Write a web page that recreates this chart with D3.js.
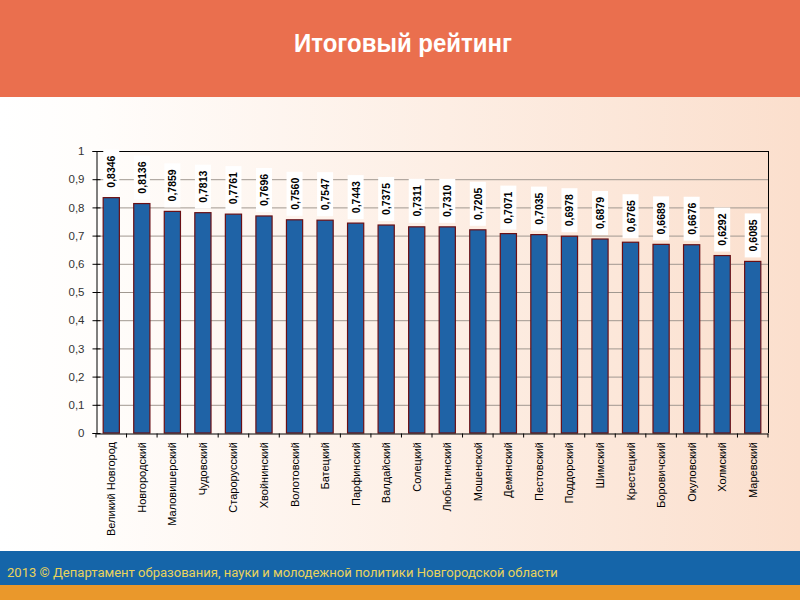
<!DOCTYPE html>
<html><head><meta charset="utf-8">
<script src="https://cdn.jsdelivr.net/npm/d3@7"></script>
<style>html,body{margin:0;padding:0;background:#fff;}svg{display:block;}</style>
</head><body>
<svg id="c" width="800" height="600"></svg>
<script>
const categories = ["Великий Новгород","Новгородский","Маловишерский","Чудовский","Старорусский","Хвойнинский","Волотовский","Батецкий","Парфинский","Валдайский","Солецкий","Любытинский","Мошенской","Демянский","Пестовский","Поддорский","Шимский","Крестецкий","Боровичский","Окуловский","Холмский","Маревский"];
const values = [0.8346,0.8136,0.7859,0.7813,0.7761,0.7696,0.7560,0.7547,0.7443,0.7375,0.7311,0.7310,0.7205,0.7071,0.7035,0.6978,0.6879,0.6765,0.6689,0.6676,0.6292,0.6085];
const yTicks = [0,0.1,0.2,0.3,0.4,0.5,0.6,0.7,0.8,0.9,1];
const title = "Итоговый рейтинг";
const footer = "2013 © Департамент образования, науки и молодежной политики Новгородской области";

const svg = d3.select("#c");
const defs = svg.append("defs");
const g1 = defs.append("linearGradient").attr("id","bg").attr("x1","0").attr("x2","1").attr("y1","0").attr("y2","0");
g1.append("stop").attr("offset","0").attr("stop-color","#ffffff");
g1.append("stop").attr("offset","0.12").attr("stop-color","#fffdfb");
g1.append("stop").attr("offset","1").attr("stop-color","#fbdfcd");
svg.append("rect").attr("width",800).attr("height",600).attr("fill","url(#bg)");
svg.append("rect").attr("width",800).attr("height",97).attr("fill","#ea6f4e");
svg.append("text").attr("transform","translate(403,52) scale(0.96,1)").attr("text-anchor","middle")
  .attr("font-family","'Liberation Sans Narrow','Arial Narrow','Liberation Sans',sans-serif")
  .attr("font-weight","bold").attr("font-size",25).attr("fill","#fff").text(title);
svg.append("rect").attr("y",551).attr("width",800).attr("height",34).attr("fill","#1565a9");
svg.append("rect").attr("y",585).attr("width",800).attr("height",15).attr("fill","#ea982b");
svg.append("text").attr("x",7).attr("y",577)
  .attr("font-family","Roboto,'Liberation Sans',sans-serif").attr("font-size",13.05)
  .attr("fill","#e9d35c").text(footer);

const L=96,R=768,T=151,B=433;
const x = d3.scaleBand().domain(categories).range([L,R]).paddingInner(0.47).paddingOuter(0.235);
const y = d3.scaleLinear().domain([0,1]).range([B,T]);

const g = svg.append("g");
g.selectAll("line.grid").data(yTicks.filter(d=>d>0)).join("line")
  .attr("x1",L).attr("x2",R).attr("y1",d=>y(d)+0.5).attr("y2",d=>y(d)+0.5)
  .attr("stroke",d=>d===1?"#000":"#a09890").attr("stroke-width",1);
g.append("line").attr("x1",R+0.5).attr("x2",R+0.5).attr("y1",T).attr("y2",B).attr("stroke","#000");

g.selectAll("rect.bar").data(values).join("rect")
  .attr("x",(d,i)=>x(categories[i])).attr("width",x.bandwidth())
  .attr("y",d=>y(d)).attr("height",d=>B-y(d))
  .attr("fill","#1f63a6").attr("stroke","#6a0f14").attr("stroke-width",1.2);

// y axis
const yAxis = d3.axisLeft(y).tickValues(yTicks).tickSize(4)
  .tickFormat(d=>d3.format(".1~f")(d).replace(".",","));
const ya = g.append("g").attr("transform",`translate(${L+0.5},0)`).call(yAxis);
ya.select(".domain").attr("stroke","#000");
ya.selectAll(".tick line").attr("x2",-4).attr("x1",4).attr("stroke","#000");
ya.selectAll(".tick text").attr("x",-12).attr("font-family","'Liberation Sans',Arial,sans-serif").attr("font-size",11.5).attr("fill","#333");

// x axis
const xa = g.append("g").attr("transform",`translate(0,${B+0.5})`).call(d3.axisBottom(x).tickSize(0));
xa.select(".domain").attr("stroke","#000");
xa.selectAll(".tick text").remove();
const edges = categories.map(c=>x(c)-x.step()*x.paddingInner()/2).concat([R]);
xa.selectAll("line.sep").data(edges).join("line")
  .attr("x1",d=>d).attr("x2",d=>d).attr("y1",0).attr("y2",4).attr("stroke","#000");

g.selectAll("text.cat").data(categories).join("text")
  .attr("transform",d=>`translate(${x(d)+x.bandwidth()/2+4},442) rotate(-90)`)
  .attr("text-anchor","end").attr("font-family","'Liberation Sans',Arial,sans-serif")
  .attr("font-size",11).attr("fill","#000").text(d=>d);

// value labels
const lab = g.selectAll("g.vl").data(values).join("g")
  .attr("transform",(d,i)=>`translate(${x(categories[i])+x.bandwidth()/2},${y(d)-4}) rotate(-90)`);
lab.append("rect").attr("x",0).attr("y",-8).attr("width",44).attr("height",16).attr("fill","#fff");
lab.append("text").attr("x",22).attr("y",4).attr("text-anchor","middle")
  .attr("font-family","'Liberation Sans',Arial,sans-serif").attr("font-weight","bold").attr("font-size",10.5)
  .attr("fill","#000").text(d=>d3.format(".4f")(d).replace(".",","));
</script>
</body></html>
